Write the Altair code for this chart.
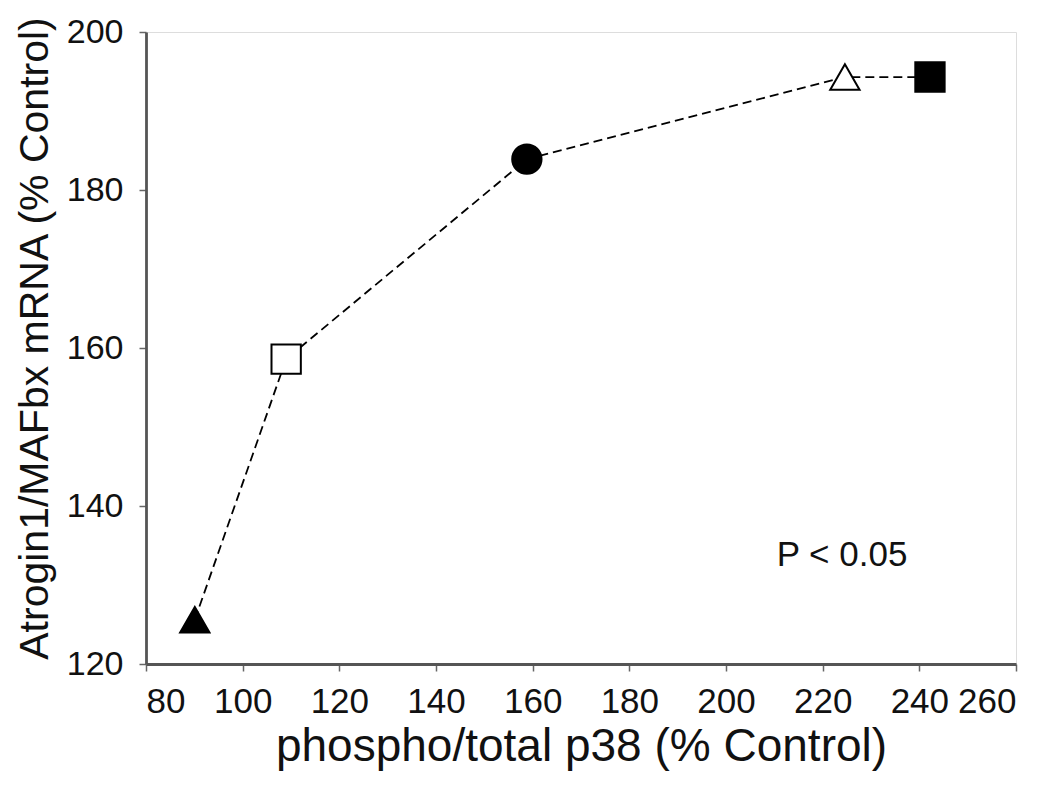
import altair as alt
import pandas as pd

# Data
x_vals = [90.1, 109.0, 158.8, 224.6, 242.2]
y_vals = [125.6, 158.6, 183.9, 194.3, 194.3]
shapes = ["triangle-up", "square", "circle", "triangle-up", "square"]
fills = ["black", "white", "black", "white", "black"]
order = [1, 2, 3, 4, 5]

x_ticks = [80, 100, 120, 140, 160, 180, 200, 220, 240, 260]
y_ticks = [120, 140, 160, 180, 200]

annot_text = ["P < 0.05"]
annot_x = [224]
annot_y = [133.8]

df = pd.DataFrame({"x": x_vals, "y": y_vals, "shape": shapes, "fill": fills, "order": order})
ann = pd.DataFrame({"x": annot_x, "y": annot_y, "t": annot_text})

FONT = "Liberation Sans"

xs = alt.Scale(domain=[80, 260], nice=False, zero=False)
ys = alt.Scale(domain=[120, 200], nice=False, zero=False)

xaxis = alt.Axis(values=x_ticks, title="phospho/total p38 (% Control)", grid=False,
                 tickSize=7, tickColor="#666", tickWidth=1.5, labelPadding=13,
                 labelFontSize=35, labelFont=FONT, labelColor="#111",
                 titleFontSize=46, titleFont=FONT, titleFontWeight="normal", titleColor="#111",
                 titleY=82, titleBaseline="middle",
                 domainColor="#555", domainWidth=2.8)
yaxis = alt.Axis(values=y_ticks, title="Atrogin1/MAFbx mRNA (% Control)", grid=False,
                 tickSize=7, tickColor="#666", tickWidth=1.5, labelPadding=16,
                 labelFontSize=34, labelFont=FONT, labelColor="#111",
                 titleFontSize=41, titleFont=FONT, titleFontWeight="normal", titleColor="#111",
                 titleX=-111, titleY=306, titleBaseline="middle",
                 domainColor="#555", domainWidth=2.8)

line = alt.Chart(df).mark_line(color="black", strokeDash=[9, 5], strokeWidth=1.8).encode(
    x=alt.X("x:Q", scale=xs, axis=xaxis),
    y=alt.Y("y:Q", scale=ys, axis=yaxis),
    order="order:Q",
)

points = alt.Chart(df).mark_point(size=860, opacity=1, stroke="black", strokeWidth=2, filled=False).encode(
    x=alt.X("x:Q", scale=xs),
    y=alt.Y("y:Q", scale=ys),
    shape=alt.Shape("shape:N", scale=None),
    fill=alt.Fill("fill:N", scale=None),
)

text = alt.Chart(ann).mark_text(fontSize=35, font=FONT, color="#111", align="center", baseline="middle").encode(
    x=alt.X("x:Q", scale=xs),
    y=alt.Y("y:Q", scale=ys),
    text="t:N",
)

chart = (line + points + text).properties(
    width=870, height=632,
    autosize=alt.AutoSizeParams(type="none"),
    padding={"left": 138, "top": 24, "right": 26, "bottom": 121},
).configure_view(stroke="#333", strokeWidth=2.5).configure(background="white")

chart.save("out.html", embed_options={"renderer": "svg", "actions": False})
